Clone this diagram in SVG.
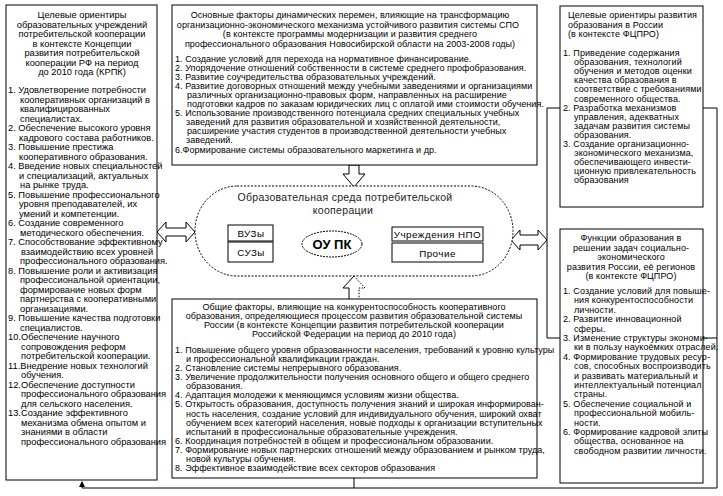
<svg xmlns="http://www.w3.org/2000/svg" width="723" height="496" viewBox="0 0 723 496">
<defs>
<style>
rect.box{fill:#fff;stroke:#000;stroke-width:1}
.ln{fill:none;stroke:#000;stroke-width:1}
.ha{fill:#fff;stroke:#000;stroke-width:1}
text{font-family:"Liberation Sans",Arial,sans-serif;fill:#000}
.f{font-size:9px;letter-spacing:0.05px}
.fl{font-size:9.3px}
.fr{font-size:9px;letter-spacing:0.1px}
.c{text-anchor:middle}
.big{font-size:10.5px;fill:#222;letter-spacing:0.3px}
.sm{font-size:9.8px;letter-spacing:0.5px}
</style>
<marker id="ah" markerWidth="6" markerHeight="6" refX="5" refY="3" orient="auto" markerUnits="userSpaceOnUse">
<path d="M0,0 L6,3 L0,6 z" fill="#000"/>
</marker>
</defs>
<rect width="723" height="496" fill="#fff"/>

<g id="connectors">
<path class="ln" d="M703,108 H717 V488 H82 V482" marker-end="url(#ah)"/>
<path class="ln" d="M703,338 H717"/>
<path class="ln" d="M560,108 H547 V338 H560"/>
<path class="ln" d="M354,478 V488"/>
<polygon class="ha" points="349,165 359,165 359,174 365,174 354,187 343,174 349,174"/>
<polygon class="ha" points="157,232 166,222 166,228 186,228 186,222 195,232 186,242 186,236 166,236 166,242"/>
<polygon class="ha" points="511,240 520,230 520,235 538,235 538,230 547,240 538,250 538,245 520,245 520,250"/>
<path class="ln" d="M349,299 V288 H343 L354,276"/>
<path class="ln" d="M354,276 L365,288 H359 V299" stroke-dasharray="1.5,1.5"/>
<path class="ln" d="M273,235 H285 V250 H273"/>
<path class="ln" d="M362,244 H383 M392,233 H383 V253 H392"/>
</g>

<g id="left-box">
<rect class="box" x="6" y="5" width="151" height="475"/>
<text class="fl c" x="82"><tspan x="82" y="18">Целевые ориентиры</tspan><tspan x="82" y="27.5">образовательных учреждений</tspan><tspan x="82" y="37">потребительской кооперации</tspan><tspan x="82" y="46.5">в контексте Концепции</tspan><tspan x="82" y="56">развития потребительской</tspan><tspan x="82" y="65.5">кооперации РФ на период</tspan><tspan x="82" y="75">до 2010 года (КРПК)</tspan></text>
<text class="fl">
<tspan x="8" y="93">1. Удовлетворение потребности</tspan>
<tspan x="20" y="102.5">кооперативных организаций в</tspan>
<tspan x="20" y="112">квалифицированных</tspan>
<tspan x="20" y="121.5">специалистах.</tspan>
<tspan x="8" y="131">2. Обеспечение высокого уровня</tspan>
<tspan x="19" y="140.5">кадрового состава работников.</tspan>
<tspan x="8" y="150">3. Повышение престижа</tspan>
<tspan x="19" y="159.5">кооперативного образования.</tspan>
<tspan x="8" y="169">4. Введение новых специальностей</tspan>
<tspan x="19" y="178.5">и специализаций, актуальных</tspan>
<tspan x="20" y="188">на рынке труда.</tspan>
<tspan x="8" y="197.5">5. Повышение профессионального</tspan>
<tspan x="19" y="207">уровня преподавателей, их</tspan>
<tspan x="19" y="216.5">умений и компетенции.</tspan>
<tspan x="8" y="226">6. Создание современного</tspan>
<tspan x="20" y="235.5">методического обеспечения.</tspan>
<tspan x="8" y="245">7. Способствование эффективному</tspan>
<tspan x="21" y="254.5">взаимодействию всех уровней</tspan>
<tspan x="20" y="264">профессионального образования.</tspan>
<tspan x="8" y="273.5">8. Повышение роли и активизация</tspan>
<tspan x="20" y="283">профессиональной ориентации,</tspan>
<tspan x="20" y="292.5">формирование новых форм</tspan>
<tspan x="20" y="302">партнерства с кооперативными</tspan>
<tspan x="20" y="311.5">организациями.</tspan>
<tspan x="8" y="321">9. Повышение качества подготовки</tspan>
<tspan x="20" y="330.5">специалистов.</tspan>
<tspan x="8" y="340">10.Обеспечение научного</tspan>
<tspan x="21" y="349.5">сопровождения реформ</tspan>
<tspan x="21" y="359">потребительской кооперации.</tspan>
<tspan x="8" y="368.5">11.Внедрение новых технологий</tspan>
<tspan x="21" y="378">обучения.</tspan>
<tspan x="8" y="387.5">12.Обеспечение доступности</tspan>
<tspan x="21" y="397">профессионального образования</tspan>
<tspan x="21" y="406.5">для сельского населения.</tspan>
<tspan x="8" y="416">13.Создание эффективного</tspan>
<tspan x="21" y="425.5">механизма обмена опытом и</tspan>
<tspan x="21" y="435">знаниями в области</tspan>
<tspan x="21" y="444.5">профессионального образования</tspan>
</text>
</g>

<g id="top-center-box">
<rect class="box" x="172" y="5" width="365" height="160"/>
<text class="f c"><tspan x="350" y="18">Основные факторы динамических перемен, влияющие на трансформацию</tspan><tspan x="348" y="27.5">организационно-экономического  механизма устойчивого развития системы СПО</tspan><tspan x="350" y="37">(в контексте программы модернизации и развития среднего</tspan><tspan x="350" y="46.5">профессионального образования Новосибирской области на 2003-2008 годы)</tspan></text>
<text class="f">
<tspan x="175" y="62">1. Создание условий для перехода на нормативное финансирование.</tspan>
<tspan x="175" y="71">2. Упорядочение отношений собственности в системе среднего профобразования.</tspan>
<tspan x="175" y="80">3. Развитие соучредительства образовательных учреждений.</tspan>
<tspan x="175" y="89">4. Развитие договорных отношений между учебными заведениями и организациями</tspan>
<tspan x="187" y="98">различных организационно-правовых форм, направленных на расширение</tspan>
<tspan x="187" y="107">подготовки кадров по заказам юридических лиц с оплатой ими стоимости обучения.</tspan>
<tspan x="175" y="116">5. Использование производственного потенциала средних специальных учебных</tspan>
<tspan x="186" y="125">заведений для развития образовательной и хозяйственной деятельности,</tspan>
<tspan x="187" y="134">расширение участия студентов в производственной деятельности учебных</tspan>
<tspan x="186" y="143">заведений.</tspan>
<tspan x="175" y="153">6.Формирование системы образовательного маркетинга и др.</tspan>
</text>
</g>

<g id="environment">
<rect x="195" y="186" width="318" height="90" rx="42" ry="45" fill="#fff" stroke="#000" stroke-width="1" stroke-dasharray="2,1.5"/>
<text class="big c"><tspan x="345" y="201">Образовательная среда  потребительской</tspan><tspan x="343" y="214">кооперации</tspan></text>
</g>

<g id="vuzy">
<rect class="box" x="228" y="225" width="45" height="16"/>
<text class="sm c" x="251" y="236.5">ВУЗы</text>
</g>
<g id="suzy">
<rect class="box" x="228" y="242" width="45" height="20"/>
<text class="sm c" x="251" y="256">СУЗы</text>
</g>
<g id="oupk">
<ellipse cx="332" cy="244" rx="30" ry="13" fill="#fff" stroke="#000" stroke-width="1" stroke-dasharray="2,1"/>
<text x="332" y="249" text-anchor="middle" style="font-family:'Liberation Sans',Arial,sans-serif;font-size:13px;font-weight:bold">ОУ ПК</text>
</g>
<g id="npo">
<rect class="box" x="392" y="227" width="91" height="14"/>
<text class="sm c" x="437.5" y="237.5">Учреждения НПО</text>
</g>
<g id="prochie">
<rect class="box" x="392" y="243" width="91" height="19"/>
<text class="sm c" x="437.5" y="256.5">Прочие</text>
</g>

<g id="bottom-center-box">
<rect class="box" x="172" y="299" width="365" height="179"/>
<text class="f c"><tspan x="354" y="310">Общие факторы, влияющие на конкурентоспособность кооперативного</tspan><tspan x="354" y="319">образования, определяющиеся процессом развития образовательной системы</tspan><tspan x="354" y="328">России (в контексте Концепции развития потребительской кооперации</tspan><tspan x="354" y="337">Российской Федерации на период до 2010 года)</tspan></text>
<text class="f">
<tspan x="175" y="352.5">1. Повышение общего уровня образованности населения, требований к уровню культуры</tspan>
<tspan x="186" y="361.6">и профессиональной квалификации граждан.</tspan>
<tspan x="175" y="370.8">2. Становление системы непрерывного образования.</tspan>
<tspan x="175" y="379.9">3. Увеличение продолжительности получения основного общего и общего среднего</tspan>
<tspan x="186" y="389.1">образования.</tspan>
<tspan x="175" y="398.2">4. Адаптация молодежи к меняющимся условиям жизни общества.</tspan>
<tspan x="175" y="407.4">5. Открытость образования, доступность получения знаний и широкая информирован-</tspan>
<tspan x="186" y="416.5">ность населения, создание условий для индивидуального обучения, широкий охват</tspan>
<tspan x="186" y="425.7">обучением  всех категорий населения, новые подходы к организации вступительных</tspan>
<tspan x="186" y="434.8">испытаний в профессиональные образовательные учреждения.</tspan>
<tspan x="175" y="444">6. Координация потребностей в общем и профессиональном образовании.</tspan>
<tspan x="175" y="453.1">7. Формирование новых партнерских отношений между образованием и рынком труда,</tspan>
<tspan x="186" y="462.3">новой культуры обучения.</tspan>
<tspan x="175" y="471.4">8. Эффективное взаимодействие всех секторов образования</tspan>
</text>
</g>

<g id="right-top-box">
<rect class="box" x="560" y="6" width="143" height="201"/>
<text class="fr"><tspan x="568" y="18">Целевые ориентиры развития</tspan><tspan x="568" y="27.5">образования в России</tspan><tspan x="568" y="37">(в контексте ФЦПРО)</tspan></text>
<text class="fr">
<tspan x="563" y="56">1. Приведение содержания</tspan>
<tspan x="574" y="65.1">образования, технологий</tspan>
<tspan x="574" y="74.2">обучения и методов оценки</tspan>
<tspan x="574" y="83.3">качества образования в</tspan>
<tspan x="574" y="92.4">соответствие с требованиями</tspan>
<tspan x="574" y="101.5">современного общества.</tspan>
<tspan x="563" y="110.6">2. Разработка механизмов</tspan>
<tspan x="574" y="119.7">управления, адекватных</tspan>
<tspan x="574" y="128.8">задачам развития системы</tspan>
<tspan x="574" y="137.9">образования.</tspan>
<tspan x="563" y="147">3. Создание организационно-</tspan>
<tspan x="574" y="156.1">экономического механизма,</tspan>
<tspan x="574" y="165.2">обеспечивающего инвести-</tspan>
<tspan x="574" y="174.3">ционную привлекательность</tspan>
<tspan x="574" y="183.4">образования</tspan>
</text>
</g>

<g id="right-bottom-box">
<rect class="box" x="560" y="229" width="143" height="254"/>
<text class="fr c"><tspan x="631" y="241">Функции образования в</tspan><tspan x="631" y="250.5">решении задач социально-</tspan><tspan x="631" y="260">экономического</tspan><tspan x="631" y="269.5">развития России, её регионов</tspan><tspan x="631" y="279">(в контексте ФЦПРО)</tspan></text>
<text class="fr">
<tspan x="563" y="294">1. Создание условий для повыше-</tspan>
<tspan x="574" y="303.4">ния конкурентоспособности</tspan>
<tspan x="574" y="312.8">личности.</tspan>
<tspan x="563" y="322.2">2. Развитие инновационной</tspan>
<tspan x="574" y="331.6">сферы.</tspan>
<tspan x="563" y="341">3. Изменение структуры экономи-</tspan>
<tspan x="574" y="350.4">ки в пользу наукоёмких отраслей.</tspan>
<tspan x="563" y="359.8">4. Формирование трудовых ресур-</tspan>
<tspan x="574" y="369.2">сов, способных воспроизводить</tspan>
<tspan x="574" y="378.6">и развивать материальный и</tspan>
<tspan x="574" y="388">интеллектуальный потенциал</tspan>
<tspan x="574" y="397.4">страны.</tspan>
<tspan x="563" y="406.8">5. Обеспечение социальной и</tspan>
<tspan x="574" y="416.2">профессиональной мобиль-</tspan>
<tspan x="574" y="425.6">ности.</tspan>
<tspan x="563" y="435">6. Формирование кадровой элиты</tspan>
<tspan x="574" y="444.4">общества, основанное на</tspan>
<tspan x="574" y="453.8">свободном развитии личности.</tspan>
</text>
</g>
</svg>
